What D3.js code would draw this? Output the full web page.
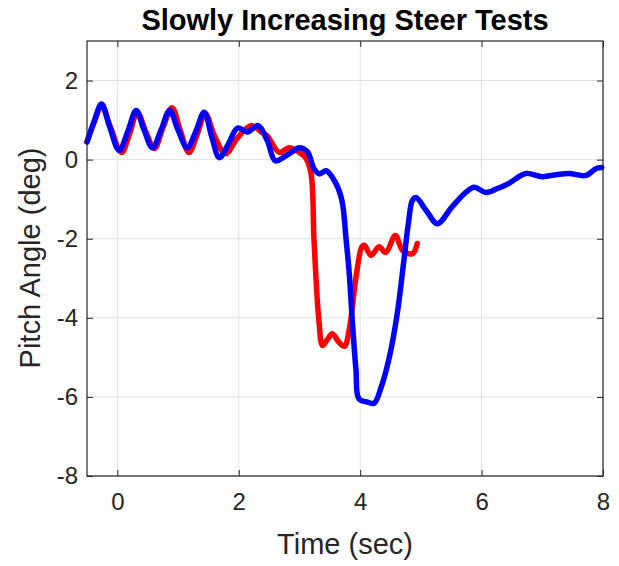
<!DOCTYPE html>
<html>
<head>
<meta charset="utf-8">
<script src="https://cdn.jsdelivr.net/npm/d3@7"></script>
<style>
  html, body { margin: 0; padding: 0; background: #fff; }
  svg { display: block; font-family: "Liberation Sans", Arial, sans-serif; }
</style>
</head>
<body>
<svg id="chart" width="619" height="566"></svg>
<script>
// Pitch angle traces from two slowly increasing steer runs
const redTime = [-0.5, -0.38, -0.26, -0.12, 0.07, 0.2, 0.33, 0.47, 0.61, 0.75, 0.9, 1.04, 1.18, 1.31, 1.45, 1.6, 1.78, 1.98, 2.2, 2.39, 2.47, 2.67, 2.83, 3.0, 3.1, 3.19, 3.24, 3.32, 3.38, 3.46, 3.54, 3.64, 3.74, 3.82, 3.93, 4.03, 4.07, 4.18, 4.31, 4.42, 4.58, 4.7, 4.86, 4.94];
const redPitch = [0.45, 0.95, 1.36, 0.85, 0.18, 0.65, 1.19, 0.7, 0.28, 0.8, 1.31, 0.72, 0.18, 0.62, 1.16, 0.6, 0.15, 0.55, 0.86, 0.68, 0.6, 0.18, 0.3, 0.18, 0.05, -0.35, -2.05, -4.07, -4.7, -4.55, -4.4, -4.6, -4.72, -4.3, -2.98, -2.2, -2.17, -2.42, -2.2, -2.35, -1.92, -2.3, -2.38, -2.12];

const blueTime = [-0.5, -0.38, -0.26, -0.13, 0.03, 0.17, 0.31, 0.44, 0.58, 0.72, 0.86, 1.0, 1.15, 1.29, 1.43, 1.56, 1.68, 1.83, 1.98, 2.14, 2.32, 2.47, 2.6, 2.75, 2.9, 3.0, 3.13, 3.24, 3.33, 3.44, 3.6, 3.7, 3.77, 3.82, 3.87, 3.93, 3.98, 4.12, 4.23, 4.34, 4.48, 4.61, 4.72, 4.8, 4.86, 4.92, 5.09, 5.27, 5.51, 5.74, 5.88, 6.07, 6.26, 6.45, 6.73, 7.0, 7.23, 7.44, 7.72, 7.88, 7.98];
const bluePitch = [0.45, 0.98, 1.41, 0.85, 0.23, 0.7, 1.24, 0.75, 0.3, 0.75, 1.24, 0.75, 0.3, 0.7, 1.2, 0.55, 0.05, 0.4, 0.8, 0.7, 0.86, 0.48, -0.03, 0.07, 0.22, 0.3, 0.2, -0.23, -0.36, -0.28, -0.6, -1.04, -2.05, -2.88, -4.07, -5.3, -6.05, -6.13, -6.16, -5.78, -5.0, -3.9, -2.55, -1.54, -1.03, -0.96, -1.29, -1.62, -1.2, -0.83, -0.7, -0.83, -0.73, -0.6, -0.35, -0.43, -0.38, -0.35, -0.4, -0.23, -0.2];

const xTicks = [0, 2, 4, 6, 8];
const yTicks = [-8, -6, -4, -2, 0, 2];

const svg = d3.select("#chart");
const box = { left: 87, right: 603, top: 41, bottom: 476 };

const x = d3.scaleLinear().domain([-0.5, 8]).range([box.left, box.right]);
const y = d3.scaleLinear().domain([-8, 3]).range([box.bottom, box.top]);

const ink = "#262626";
const gridColor = "#e1e1e1";

// grid
const grid = svg.append("g");
grid.selectAll("line.gx").data(xTicks).join("line")
  .attr("x1", d => x(d)).attr("x2", d => x(d))
  .attr("y1", box.top).attr("y2", box.bottom)
  .attr("stroke", gridColor).attr("stroke-width", 1);
grid.selectAll("line.gy").data(yTicks).join("line")
  .attr("y1", d => y(d)).attr("y2", d => y(d))
  .attr("x1", box.left).attr("x2", box.right)
  .attr("stroke", gridColor).attr("stroke-width", 1);

// data lines
const line = (tt, vv) => d3.line()
  .x(i => x(tt[i])).y(i => y(vv[i]))
  .curve(d3.curveCatmullRom.alpha(0.5))(d3.range(tt.length));

const plot = svg.append("g");
plot.append("path").attr("d", line(redTime, redPitch))
  .attr("fill", "none").attr("stroke", "#ff0000").attr("stroke-width", 5.5)
  .attr("stroke-linejoin", "round").attr("stroke-linecap", "round");
plot.append("path").attr("d", line(blueTime, bluePitch))
  .attr("fill", "none").attr("stroke", "#0000ff").attr("stroke-width", 5.5)
  .attr("stroke-linejoin", "round").attr("stroke-linecap", "round");

// axes with inward ticks on all four sides
const tickLen = 6;
const fmt = d => d < 0 ? "-" + Math.abs(d) : String(d);
const xb = svg.append("g").attr("transform", `translate(0,${box.bottom})`)
  .call(d3.axisBottom(x).tickValues(xTicks).tickSize(-tickLen).tickPadding(17).tickFormat(fmt));
const xt = svg.append("g").attr("transform", `translate(0,${box.top})`)
  .call(d3.axisTop(x).tickValues(xTicks).tickSize(-tickLen).tickFormat(""));
const yl = svg.append("g").attr("transform", `translate(${box.left},0)`)
  .call(d3.axisLeft(y).tickValues(yTicks).tickSize(-tickLen).tickPadding(9).tickFormat(fmt));
const yr = svg.append("g").attr("transform", `translate(${box.right},0)`)
  .call(d3.axisRight(y).tickValues(yTicks).tickSize(-tickLen).tickFormat(""));

[xb, xt, yl, yr].forEach(g => {
  g.select(".domain").remove();
  g.selectAll(".tick line").attr("stroke", ink).attr("stroke-width", 1);
  g.selectAll(".tick text").attr("fill", ink).style("font-size", "24px");
});

svg.append("rect")
  .attr("x", box.left).attr("y", box.top)
  .attr("width", box.right - box.left).attr("height", box.bottom - box.top)
  .attr("fill", "none").attr("stroke", ink).attr("stroke-width", 1.2);

// titles
svg.append("text").attr("x", 345).attr("y", 30)
  .attr("text-anchor", "middle").attr("fill", "#000")
  .style("font-size", "29px").style("font-weight", "bold")
  .text("Slowly Increasing Steer Tests");
svg.append("text").attr("x", 345).attr("y", 554)
  .attr("text-anchor", "middle").attr("fill", ink)
  .style("font-size", "29px")
  .text("Time (sec)");
svg.append("text")
  .attr("transform", `translate(40,258) rotate(-90)`)
  .attr("text-anchor", "middle").attr("fill", ink)
  .style("font-size", "29px")
  .text("Pitch Angle (deg)");
</script>
</body>
</html>
